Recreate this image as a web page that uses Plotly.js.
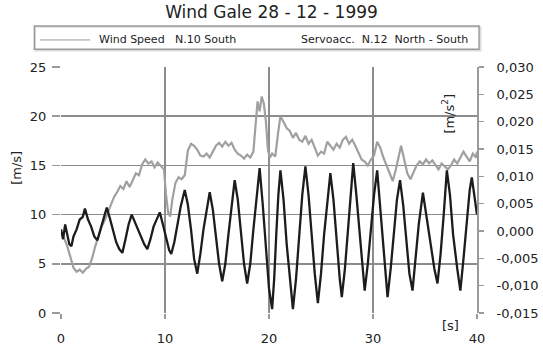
<!DOCTYPE html>
<html>
<head>
<meta charset="utf-8">
<script src="https://cdn.plot.ly/plotly-3.0.1.min.js"></script>
<style>html,body{margin:0;padding:0;background:#fff;}#chart{width:543px;height:351px;}</style>
</head>
<body>
<div id="chart"></div>
<script>
// Wind speed (m/s), left axis
const windT = [0.0,0.3,0.6,0.9,1.2,1.5,1.8,2.1,2.4,2.7,3.0,3.3,3.6,3.9,4.2,4.5,4.8,5.1,5.4,5.7,6.0,6.3,6.6,6.9,7.2,7.5,7.8,8.1,8.4,8.7,9.0,9.3,9.6,9.9,10.1,10.3,10.5,10.7,11.0,11.3,11.6,11.9,12.2,12.5,12.8,13.1,13.4,13.7,14.0,14.3,14.6,14.9,15.2,15.5,15.8,16.1,16.4,16.7,17.0,17.3,17.6,17.9,18.2,18.5,18.7,18.9,19.1,19.3,19.5,19.7,19.9,20.1,20.3,20.6,20.9,21.1,21.4,21.7,22.0,22.3,22.6,22.9,23.2,23.5,23.8,24.1,24.4,24.7,25.0,25.3,25.6,25.9,26.2,26.5,26.8,27.1,27.4,27.7,28.0,28.3,28.6,28.9,29.2,29.5,29.8,30.1,30.4,30.7,31.0,31.3,31.6,31.9,32.2,32.5,32.7,33.0,33.3,33.6,33.9,34.2,34.5,34.8,35.1,35.4,35.7,36.0,36.3,36.6,36.9,37.2,37.5,37.8,38.1,38.4,38.7,39.0,39.3,39.6,39.9,40.0];
const windSpeed = [8.2,7.6,6.8,5.6,4.6,4.2,4.4,4.1,4.5,4.7,5.6,6.8,7.8,8.8,9.4,10.2,10.8,11.8,12.3,12.9,12.6,13.4,12.8,13.6,14.2,14.0,15.1,15.6,15.2,15.4,14.8,15.3,15.0,14.6,12.0,10.2,9.8,11.5,13.2,13.8,13.6,14.0,16.5,17.2,17.0,16.6,16.0,15.9,16.2,15.8,16.4,17.0,17.3,16.9,17.4,17.0,17.3,16.6,16.2,16.0,15.7,16.1,15.8,16.4,19.0,21.5,20.5,22.0,21.3,19.5,16.5,15.8,16.2,15.9,18.5,20.0,19.4,18.8,18.5,17.8,18.3,17.6,17.4,18.0,17.2,17.6,16.8,16.0,16.4,16.2,17.4,17.0,16.6,17.2,16.8,17.6,17.9,17.2,17.6,17.0,16.2,15.6,15.4,15.0,15.6,16.0,17.4,16.8,15.8,15.0,14.2,13.4,14.6,15.9,17.0,15.6,14.2,13.6,14.4,15.0,15.4,15.1,15.6,15.2,15.5,15.0,14.6,15.2,14.9,14.6,15.0,15.6,15.2,15.8,16.4,15.9,15.4,16.2,15.8,16.4];

// Servo acceleration (m/s^2), right axis
const accT = [0.0,0.2,0.4,0.6,0.8,1.0,1.2,1.5,1.8,2.1,2.3,2.6,2.9,3.2,3.5,3.8,4.1,4.4,4.7,5.0,5.3,5.6,5.9,6.2,6.5,6.8,7.1,7.4,7.7,8.0,8.3,8.6,8.9,9.2,9.5,9.8,10.1,10.4,10.6,10.9,11.2,11.5,11.9,12.2,12.5,12.8,13.1,13.4,13.7,14.0,14.3,14.6,14.9,15.2,15.5,15.8,16.1,16.4,16.7,17.0,17.3,17.6,17.9,18.2,18.5,18.8,19.1,19.4,19.7,20.0,20.3,20.5,20.7,20.9,21.1,21.4,21.7,22.0,22.3,22.6,22.9,23.2,23.5,23.8,24.1,24.4,24.7,25.0,25.3,25.6,25.9,26.2,26.5,26.8,27.0,27.3,27.6,27.9,28.1,28.4,28.7,29.0,29.2,29.5,29.8,30.1,30.4,30.7,31.0,31.4,31.7,32.0,32.3,32.6,32.9,33.2,33.5,33.8,34.1,34.4,34.8,35.1,35.5,35.9,36.2,36.5,36.8,37.1,37.4,37.7,38.1,38.4,38.7,39.0,39.3,39.5,39.8,40.0];
const servoAcc = [0.0003,-0.0015,0.0012,-0.0006,-0.0024,-0.0028,-0.0010,0.0003,0.0021,0.0026,0.0041,0.0021,0.0008,-0.0010,-0.0017,0.0003,0.0021,0.0043,0.0023,0.0003,-0.0020,-0.0033,-0.0040,-0.0015,0.0012,0.0030,0.0016,0.0003,-0.0010,-0.0024,-0.0033,-0.0015,0.0008,0.0021,0.0034,0.0012,-0.0010,-0.0035,-0.0042,-0.0020,0.0012,0.0044,0.0075,0.0048,0.0003,-0.0051,-0.0078,-0.0042,0.0003,0.0039,0.0071,0.0039,-0.0015,-0.0060,-0.0092,-0.0060,-0.0006,0.0048,0.0093,0.0057,-0.0006,-0.0060,-0.0096,-0.0060,0.0003,0.0066,0.0115,0.0048,-0.0033,-0.0105,-0.0143,-0.0087,-0.0006,0.0066,0.0111,0.0057,-0.0024,-0.0087,-0.0143,-0.0087,-0.0006,0.0066,0.0118,0.0066,-0.0006,-0.0078,-0.0132,-0.0078,-0.0006,0.0057,0.0106,0.0057,-0.0024,-0.0087,-0.0121,-0.0069,0.0003,0.0075,0.0124,0.0066,-0.0006,-0.0078,-0.0109,-0.0060,0.0003,0.0066,0.0111,0.0039,-0.0042,-0.0121,-0.0069,-0.0006,0.0057,0.0093,0.0048,-0.0015,-0.0078,-0.0109,-0.0051,0.0012,0.0070,0.0030,-0.0024,-0.0069,-0.0096,-0.0042,0.0030,0.0111,0.0066,-0.0006,-0.0069,-0.0109,-0.0051,0.0012,0.0075,0.0098,0.0057,0.0030];

const xTicks = [0,10,20,30,40];
const yTicks = [0,5,10,15,20,25];
const y2Vals = [-0.015,-0.010,-0.005,0.000,0.005,0.010,0.015,0.020,0.025,0.030];
const y2Text = ['-0,015','-0,010','-0,005','0,000','0,005','0,010','0,015','0,020','0,025','0,030'];

const titleText = 'Wind Gale 28 - 12 - 1999';
const legendWind = 'Wind Speed\u00a0\u00a0 N.10 South';
const legendAcc = 'Servoacc.\u00a0 N.12\u00a0 North - South';

const FONT = 'DejaVu Sans, sans-serif';
const TXT = '#222';

const traces = [
  {x: windT, y: windSpeed, type: 'scatter', mode: 'lines', name: 'Wind Speed N.10 South',
   line: {color: '#a0a0a0', width: 2.2}, yaxis: 'y'},
  {x: accT, y: servoAcc, type: 'scatter', mode: 'lines', name: 'Servoacc. N.12 North - South',
   line: {color: '#1c1c1c', width: 2.3}, yaxis: 'y2'}
];

const layout = {
  width: 543, height: 351,
  margin: {l: 61, r: 66, t: 67, b: 38},
  paper_bgcolor: '#fff', plot_bgcolor: '#fff',
  showlegend: false,
  font: {family: FONT, size: 13, color: TXT},
  title: {text: titleText, x: 0.5, xanchor: 'center', y: 0.966, yanchor: 'middle',
          font: {family: FONT, size: 17, color: TXT}},
  xaxis: {range: [0, 40], tickvals: xTicks, ticktext: xTicks.map(String),
          showgrid: true, gridcolor: '#8c8c8c', gridwidth: 1.5,
          zeroline: false, showline: false,
          ticks: 'outside', ticklen: 5, tickcolor: '#9a9a9a', tickwidth: 1.5,
          ticklabelstandoff: 8,
          tickfont: {family: FONT, size: 13, color: TXT}},
  yaxis: {range: [0, 25], tickvals: yTicks, ticktext: yTicks.map(String),
          showgrid: true, gridcolor: '#8c8c8c', gridwidth: 1.5,
          zeroline: false, showline: false,
          ticks: 'outside', ticklen: 8, tickcolor: '#9a9a9a', tickwidth: 1.5,
          ticklabelstandoff: 3,
          tickfont: {family: FONT, size: 13, color: TXT}},
  yaxis2: {range: [-0.015, 0.030], overlaying: 'y', side: 'right',
           tickvals: y2Vals, ticktext: y2Text,
           showgrid: false, zeroline: false,
           showline: true, linecolor: '#9a9a9a', linewidth: 2,
           ticks: 'outside', ticklen: 5, tickcolor: '#9a9a9a', tickwidth: 1.5,
           ticklabelstandoff: 10,
           tickfont: {family: FONT, size: 13, color: TXT}},
  shapes: [
    {type: 'rect', xref: 'paper', yref: 'paper', x0: -0.064, x1: 1.005, y0: 1.072, y1: 1.167,
     line: {color: '#9a9a9a', width: 1.5}, fillcolor: 'rgba(0,0,0,0)'},
    {type: 'rect', xref: 'paper', yref: 'paper', x0: -0.062, x1: 1.009, y0: 1.066, y1: 1.163,
     line: {color: '#dcdcdc', width: 1.5}, fillcolor: 'rgba(0,0,0,0)', layer: 'below'},
    {type: 'line', xref: 'paper', yref: 'paper', x0: -0.05, x1: 0.07, y0: 1.11, y1: 1.11,
     line: {color: '#9a9a9a', width: 1}}
  ],
  annotations: [
    {text: legendWind, xref: 'paper', yref: 'paper', x: 0.086, y: 1.11, xanchor: 'left', yanchor: 'middle',
     showarrow: false, font: {family: FONT, size: 11, color: TXT}},
    {text: legendAcc, xref: 'paper', yref: 'paper', x: 0.984, y: 1.11, xanchor: 'right', yanchor: 'middle',
     showarrow: false, font: {family: FONT, size: 11, color: TXT}},
    {text: '[m/s]', xref: 'paper', yref: 'paper', x: -0.106, y: 0.59, xanchor: 'center', yanchor: 'middle',
     textangle: -90, showarrow: false, font: {family: FONT, size: 13, color: TXT}},
    {text: '[m/s<sup>2</sup>]', xref: 'paper', yref: 'paper', x: 0.93, y: 0.81, xanchor: 'center', yanchor: 'middle',
     textangle: -90, showarrow: false, font: {family: FONT, size: 13, color: TXT}},
    {text: '[s]', xref: 'paper', yref: 'paper', x: 0.937, y: -0.05, xanchor: 'center', yanchor: 'middle',
     showarrow: false, font: {family: FONT, size: 13, color: TXT}}
  ]
};

Plotly.newPlot('chart', traces, layout, {displayModeBar: false, staticPlot: true});
</script>
</body>
</html>
